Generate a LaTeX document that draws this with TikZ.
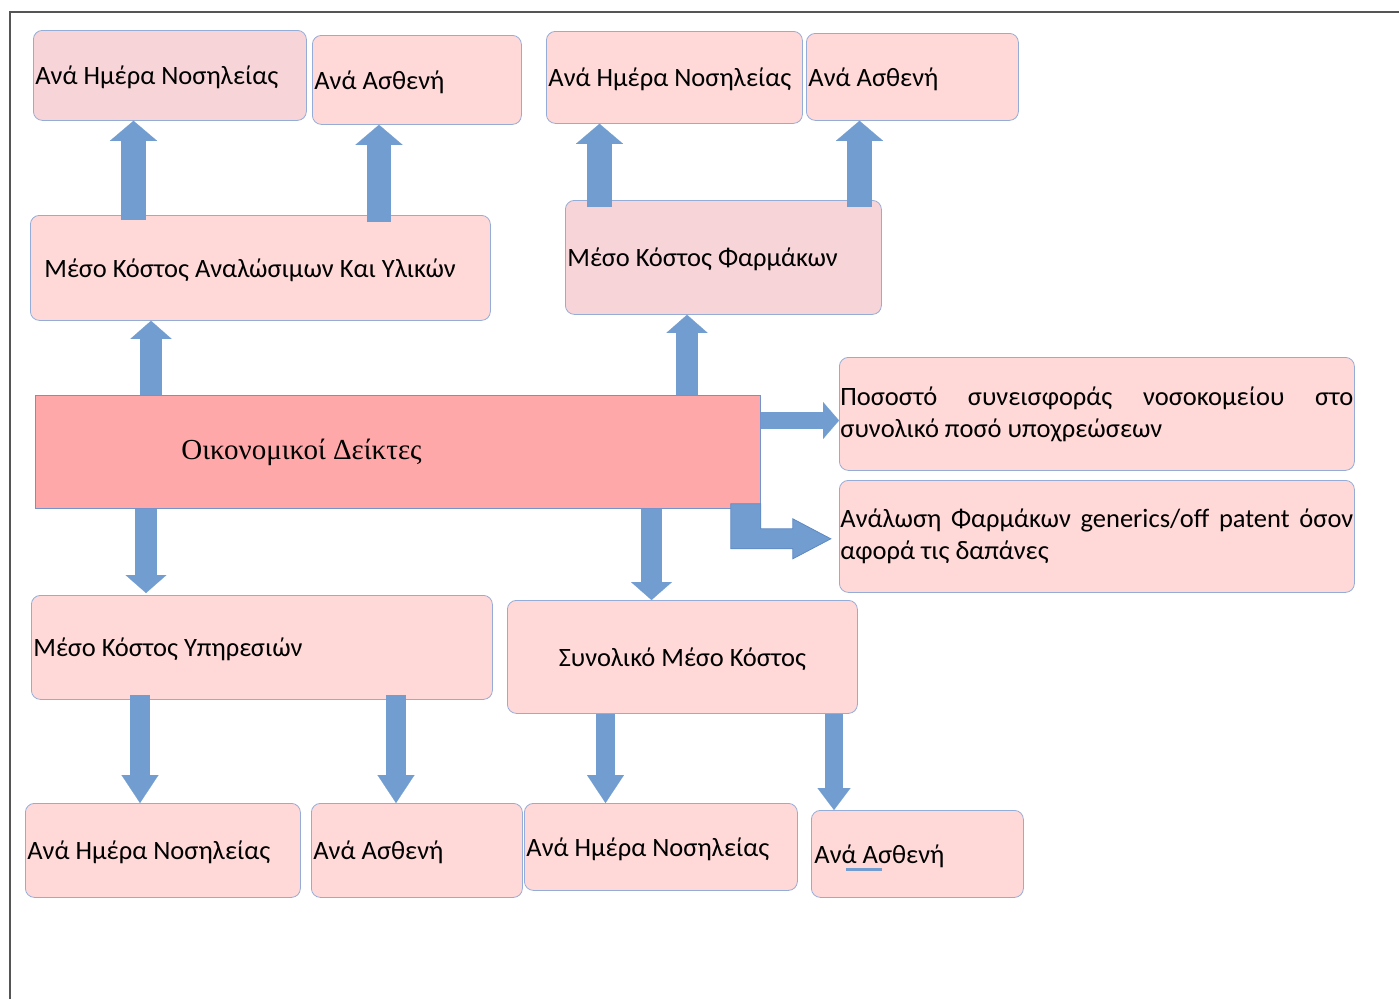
\documentclass[tikz,border=0pt]{standalone}
\usepackage{fontspec}
\setmainfont{Carlito}
\newfontfamily\serifgr{Liberation Serif}
\usetikzlibrary{arrows.meta}
\definecolor{boxfill}{HTML}{FFD8D8}
\definecolor{boxfilltwo}{HTML}{F7D4D7}
\definecolor{boxline}{HTML}{95ACD6}
\definecolor{centfill}{HTML}{FFA8A9}
\definecolor{centline}{HTML}{7393CC}
\definecolor{arrowblue}{HTML}{729DD0}
\definecolor{arrowedge}{HTML}{5E88C2}
\definecolor{framegray}{HTML}{555555}
\begin{document}
\begin{tikzpicture}[x=1pt,y=-1pt,
  box/.style={draw=boxline, fill=boxfill, rounded corners=9pt, line width=0.8pt,
    inner xsep=2pt, inner ysep=0pt, align=flush left, anchor=north west,
    font=\fontsize{26.5}{32}\selectfont},
  onebox/.style={box, text height=25pt, text depth=6pt},
  barrow/.style={draw=arrowblue, line cap=butt},
  tipbig/.style={-{Triangle[width=47pt,length=20pt,line width=0.1pt]}},
  tipmid/.style={-{Triangle[width=41pt,length=18pt,line width=0.1pt]}},
  tipdown/.style={-{Triangle[width=37pt,length=28pt,line width=0.1pt]}},
  tipsmall/.style={-{Triangle[width=33pt,length=22pt,line width=0.1pt]}},
  tipright/.style={-{Triangle[width=37pt,length=16pt,line width=0.1pt]}}]
\useasboundingbox (0,0) rectangle (1399,999);
% frame
\draw[framegray, line width=1.6pt] (10,999) -- (10,12) -- (1399,12);

% boxes
\node[onebox, fill=boxfilltwo, text width=269pt, minimum height=90pt] (b1) at (33,30) {Ανά Ημέρα Νοσηλείας};
\node[onebox, text width=205pt, minimum height=89pt] (b2) at (312,35) {Ανά Ασθενή};
\node[onebox, text width=252pt, minimum height=92pt] (b3) at (546,31) {Ανά Ημέρα Νοσηλείας};
\node[onebox, text width=208pt, minimum height=87pt] (b4) at (806,33) {Ανά Ασθενή};
\node[onebox, inner xsep=14pt, text width=432pt, minimum height=105pt] (b5) at (30,215) {Μέσο Κόστος Αναλώσιμων Και Υλικών};
\node[onebox, fill=boxfilltwo, text width=312pt, minimum height=114pt] (b6) at (565,200) {Μέσο Κόστος Φαρμάκων};
\node[box, draw=centline, fill=centfill, rounded corners=0pt, inner xsep=146pt, text width=433pt, minimum height=113pt,
  font=\serifgr\fontsize{29}{34}\selectfont] (c) at (35,395) {Οικονομικοί Δείκτες};
\node[box, inner xsep=1pt, text width=513pt, minimum height=113pt] (r1) at (839,357)
  {\makebox[513pt][s]{Ποσοστό συνεισφοράς νοσοκομείου στο}\\συνολικό ποσό υποχρεώσεων};
\node[box, inner xsep=1pt, text width=513pt, minimum height=112pt] (r2) at (839,480)
  {\makebox[513pt][s]{Ανάλωση Φαρμάκων generics/off patent όσον}\\αφορά τις δαπάνες};
\node[onebox, text width=457pt, minimum height=104pt] (b7) at (31,595) {Μέσο Κόστος Υπηρεσιών};
\node[onebox, align=flush center, text width=346pt, minimum height=113pt] (b8) at (507,600) {Συνολικό Μέσο Κόστος};
\node[onebox, text width=271pt, minimum height=94pt] (b9) at (25,803) {Ανά Ημέρα Νοσηλείας};
\node[onebox, text width=207pt, minimum height=94pt] (b10) at (311,803) {Ανά Ασθενή};
\node[onebox, text width=269pt, minimum height=87pt] (b11) at (524,803) {Ανά Ημέρα Νοσηλείας};
\node[onebox, inner xsep=3pt, text width=206pt, minimum height=87pt] (b12) at (811,810) {Ανά Ασθενή};

% x / y reference coordinates for the block arrows
\coordinate (xa) at (133.5,0);
\coordinate (xb) at (379,0);
\coordinate (xc) at (599.5,0);
\coordinate (xd) at (859.5,0);
\coordinate (xe) at (151,0);
\coordinate (xf) at (687,0);
\coordinate (xg) at (146,0);
\coordinate (xh) at (651.5,0);
\coordinate (xi) at (140,0);
\coordinate (xj) at (396,0);
\coordinate (xk) at (605.5,0);
\coordinate (xl) at (834,0);
\coordinate (ya) at (0,420.5);

% up arrows
\draw[barrow, tipbig, line width=25pt, shorten <=-5pt] (b5.north -| xa) -- (b1.south -| xa);
\draw[barrow, tipbig, line width=24pt, shorten <=-7pt] (b5.north -| xb) -- (b2.south -| xb);
\draw[barrow, tipbig, line width=25pt, shorten <=-7pt] (b6.north -| xc) -- (b3.south -| xc);
\draw[barrow, tipbig, line width=25pt, shorten <=-7pt] (b6.north -| xd) -- (b4.south -| xd);
\draw[barrow, tipmid, line width=22pt] (c.north -| xe) -- (b5.south -| xe);
\draw[barrow, tipmid, line width=22pt] (c.north -| xf) -- (b6.south -| xf);
% down arrows
\draw[barrow, tipmid, line width=22pt, shorten >=2pt] (c.south -| xg) -- (b7.north -| xg);
\draw[barrow, tipmid, line width=21pt] (c.south -| xh) -- (b8.north -| xh);
\draw[barrow, tipdown, line width=20pt, shorten <=-5pt] (b7.south -| xi) -- (b9.north -| xi);
\draw[barrow, tipdown, line width=20pt, shorten <=-5pt] (b7.south -| xj) -- (b10.north -| xj);
\draw[barrow, tipdown, line width=19pt] (b8.south -| xk) -- (b11.north -| xk);
\draw[barrow, tipsmall, line width=18pt] (b8.south -| xl) -- (b12.north -| xl);
% right arrows
\draw[barrow, tipright, line width=17pt] (c.east |- ya) -- (r1.west |- ya);
\filldraw[fill=arrowblue, draw=arrowedge, line width=0.8pt, line join=miter]
  ([xshift=-30pt,yshift=5pt]c.south east) -- ++(30,0) -- ++(0,25) -- ++(32,0) -- ++(0,-10)
  -- ++(38,20) -- ++(-38,20) -- ++(0,-10) -- ++(-62,0) -- cycle;

% small mark under text
\draw[arrowblue, line width=3pt] (846,869.5) -- (882,869.5);
\end{tikzpicture}
\end{document}
